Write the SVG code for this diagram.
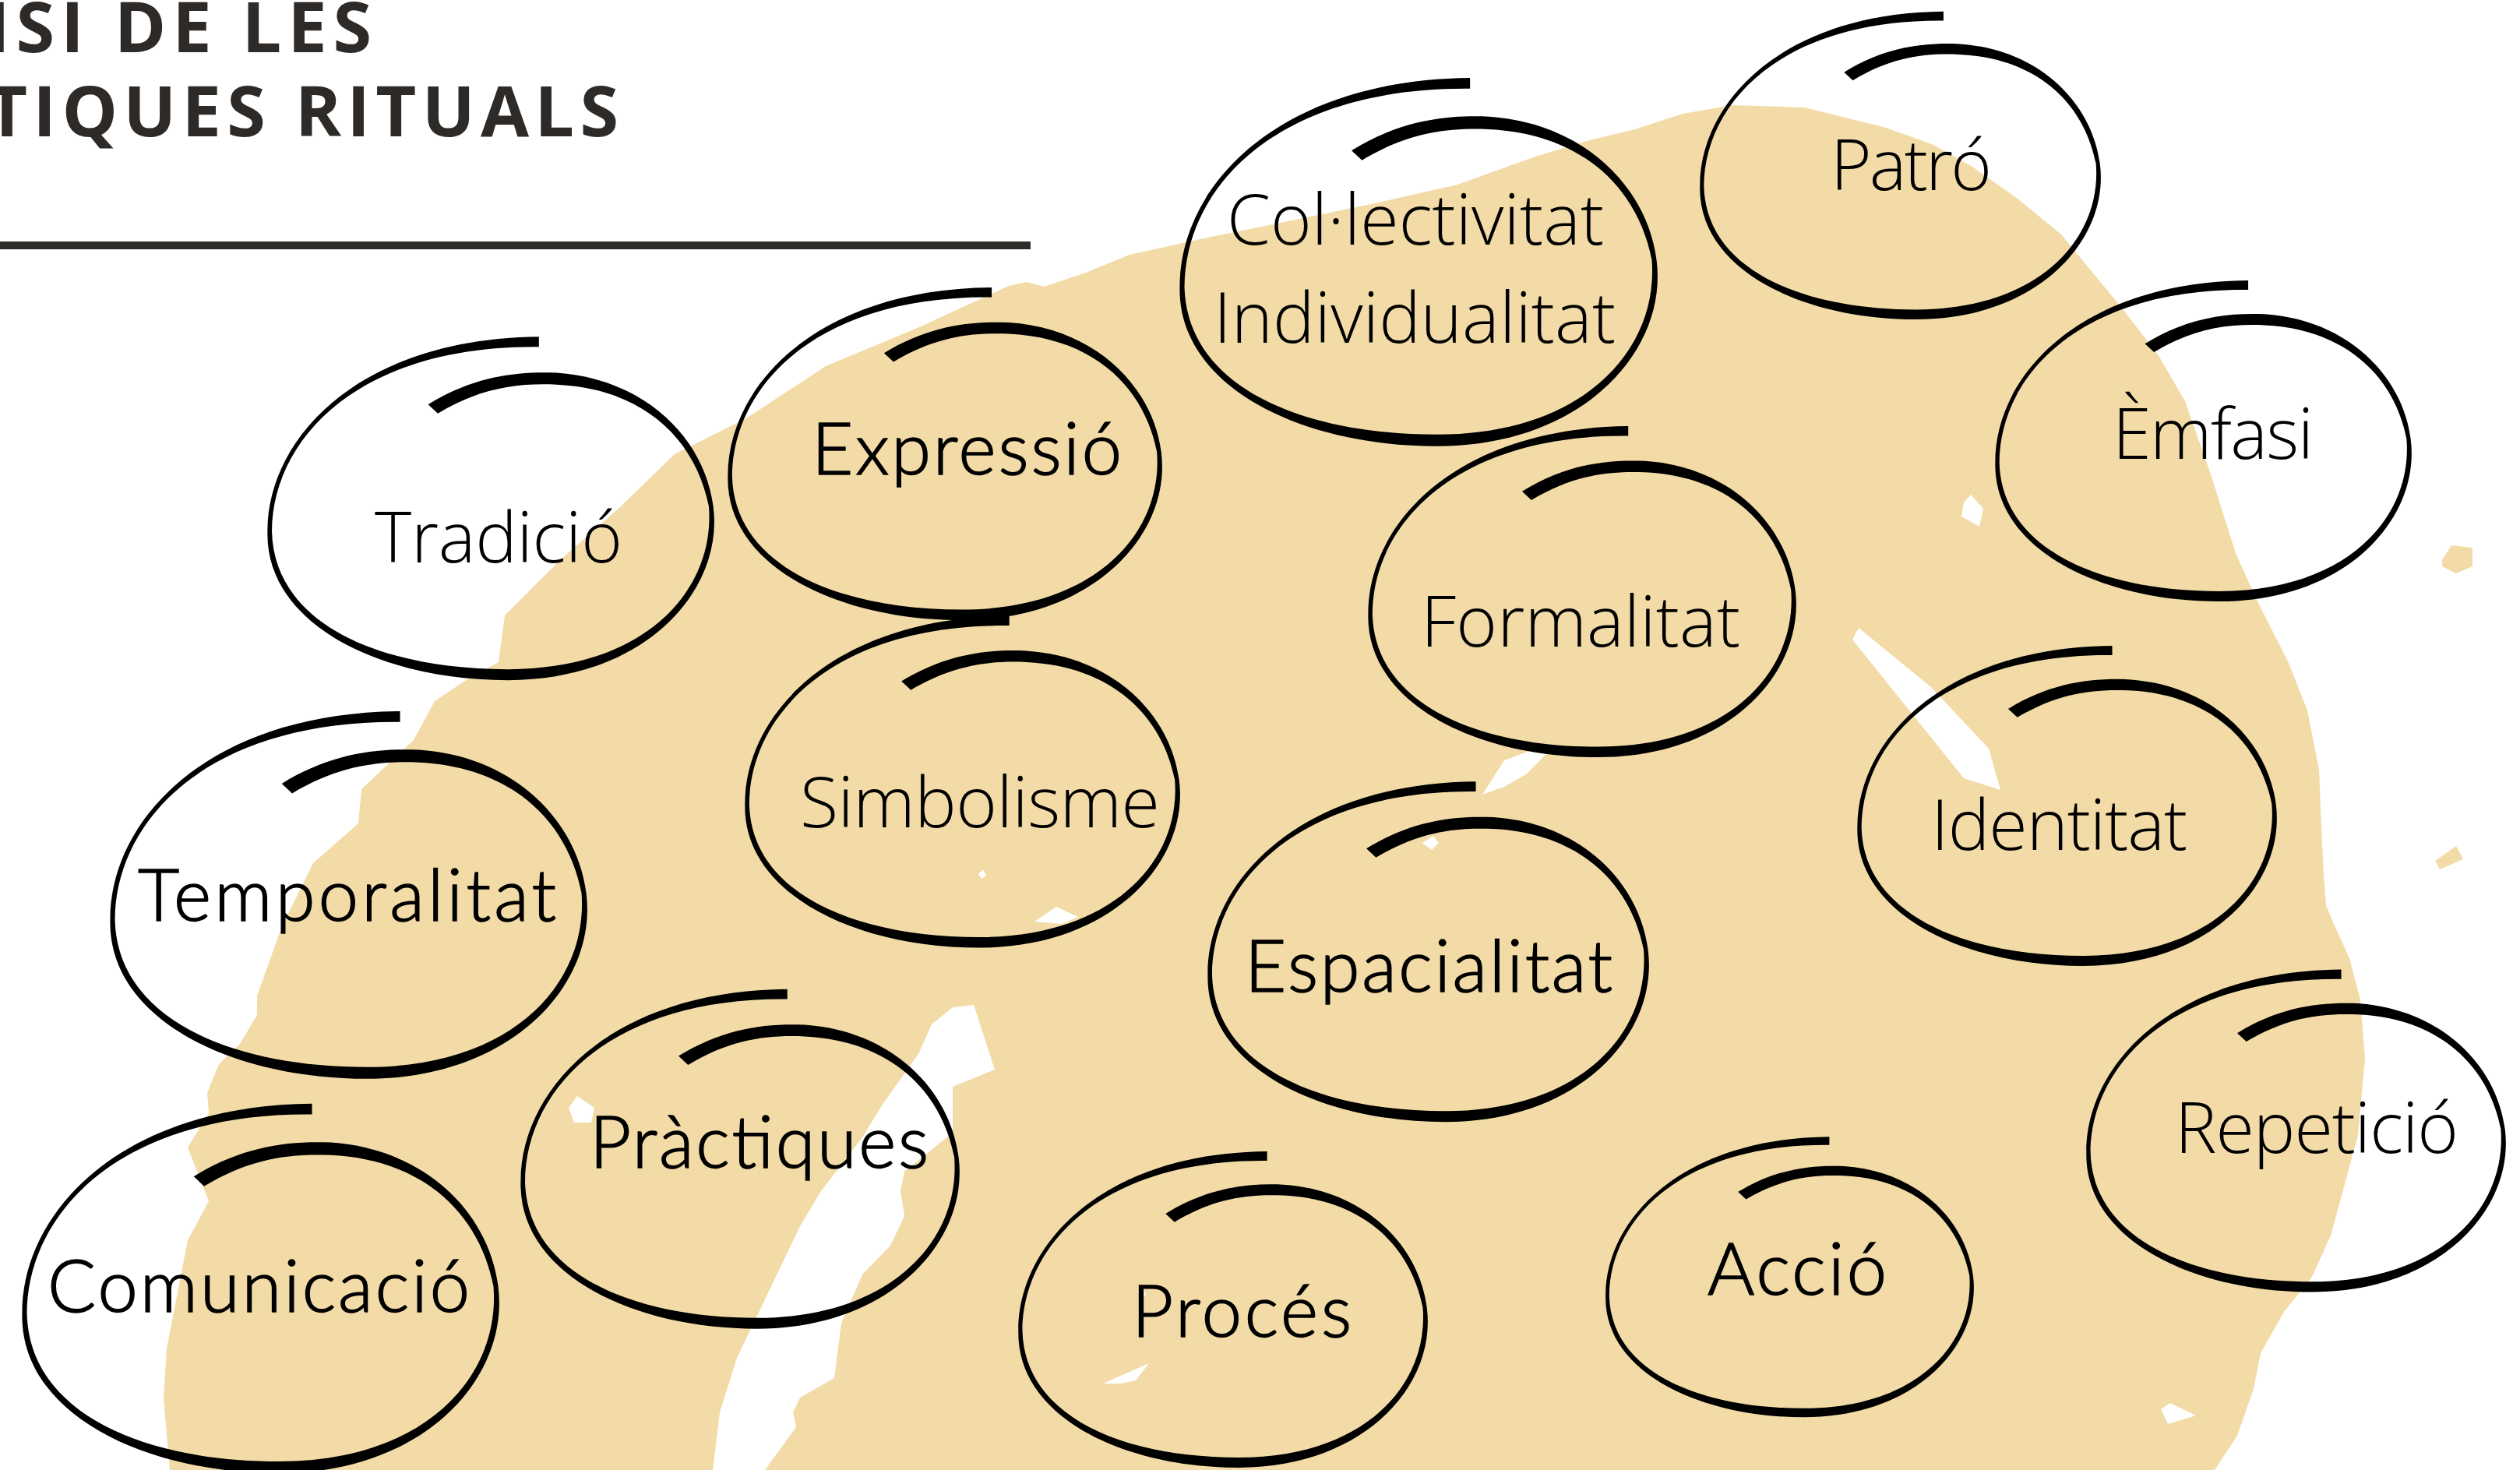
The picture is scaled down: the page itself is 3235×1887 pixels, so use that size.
<svg xmlns="http://www.w3.org/2000/svg" xmlns:xlink="http://www.w3.org/1999/xlink" width="3235" height="1887" viewBox="0 0 3235 1887">
<style>
.title{font-family:"Open Sans","Liberation Sans",sans-serif;font-weight:700;font-size:90px;fill:#2d2a27}
.lt{font-family:"Open Sans","Liberation Sans",sans-serif;font-weight:300;font-size:90px;fill:#000}
.rw{font-family:Lato,"Liberation Sans",sans-serif;font-weight:300;font-size:92px;fill:#000;stroke:#000;stroke-width:1.6px}
.blob{fill:#f2dba6}
.hole{fill:#fff}
.loop{fill:#000}
</style>
<defs>
<path id="loop" class="loop" d="M-28.2,-60.7 C-7.5,-77.5 12,-80.5 30,-79.5 C70.3,-76 97,-40.3 101,0 C106,50 70,103.5 8,103.5 C-50,103.5 -102,70 -101,15 C-101.2,-40 -60,-100 22,-101 L22,-95 C-60,-96 -98.8,-40 -99,15 C-98,70 -50,97 8,97 C70,97 102,50 99,0 C93,-39.7 69.7,-70 30,-72.5 C12,-73.5 -4.5,-70.5 -23.8,-55.3 Z"/>
</defs>
<rect width="3235" height="1887" fill="#fff"/>
<g id="background">
<path class="blob" d="M219,1900 L210,1794 L214,1731 L241,1592 L268,1542 L241,1473 L268,1429 L266,1403 L281,1366 L308,1340 L330,1303 L330,1278 L362,1189 L402,1108 L460,1057 L464,1013 L531,950 L558,900 L600,872 L640,850 L648,790 L720,718 L797,650 L866,583 L958,537 L1060,470 L1180,420 L1295,367 L1318,362 L1340,368 L1394,350 L1450,327 L1550,305 L1644,286 L1760,262 L1871,237 L1968,202 L2040,180 L2099,166 L2160,146 L2224,135 L2316,138 L2418,163 L2480,185 L2532,214 L2590,255 L2646,301 L2726,398 L2770,455 L2805,515 L2839,612 L2870,710 L2896,768 L2938,851 L2962,912 L2977,988 L2980,1060 L2983,1124 L2986,1162 L2995,1184 L3016,1230 L3030,1283 L3036,1359 L3027,1457 L3010,1520 L2992,1586 L2968,1639 L2932,1684 L2902,1737 L2893,1783 L2872,1843 L2843,1887 L2830,1900 Z"/>
<path class="blob" d="M3135,719 L3147,700 L3174,703 L3174,727 L3153,736 L3135,727 Z"/>
<path class="blob" d="M3126,1105 L3153,1086 L3162,1103 L3132,1116 Z"/>
<path class="hole" d="M1250,1290 L1277,1373 L1223,1395 L1223,1454 L1161,1504 L1156,1529 L1161,1561 L1143,1599 L1107,1636 L1080,1699 L1071,1769 L1027,1794 L1018,1813 L1022,1832 L982,1887 L982,1900 L915,1900 L915,1887 L924,1813 L946,1743 L973,1687 L1027,1574 L1054,1529 L1107,1460 L1134,1416 L1179,1353 L1196,1315 L1223,1293 Z"/>
<path class="hole" d="M741,1407 L763,1422 L759,1441 L737,1441 L730,1422 Z"/>
<path class="hole" d="M1256,1122 L1262,1116 L1266,1124 L1260,1128 Z"/>
<path class="hole" d="M1328,1183 L1356,1164 L1384,1177 L1363,1186 Z"/>
<path class="hole" d="M1903,1020 L1931,976 L1966,963 L1987,966 L1959,994 L1931,1010 Z"/>
<path class="hole" d="M1826,1082 L1840,1073 L1847,1082 L1838,1091 Z"/>
<path class="hole" d="M1416,1776 L1475,1750 L1458,1772 L1440,1776 Z"/>
<path class="hole" d="M1461,1658 L1467,1652 L1471,1662 L1465,1666 Z"/>
<path class="hole" d="M2386,806 L2378,821 L2521,999 L2568,1014 L2553,961 L2479,882 Z"/>
<path class="hole" d="M2530,635 L2546,653 L2541,676 L2518,663 L2521,645 Z"/>
<path class="hole" d="M2774,1809 L2786,1801 L2819,1817 L2783,1828 Z"/>
</g>
<g id="title">
<text class="title" x="-17" y="67" textLength="494">ISI DE LES</text>
<text class="title" x="-17" y="175" textLength="811">TIQUES RITUALS</text>
<rect x="0" y="310" width="1323" height="10" fill="#2e2c29"/>
</g>
<g id="connectors"/>
<g id="node-tradicio"><use xlink:href="#loop" transform="translate(629.5,650) scale(2.833,2.156)"/><text class="lt" x="481" y="722" textLength="318">Tradició</text></g>
<g id="node-expressio"><use xlink:href="#loop" transform="translate(1212.5,580) scale(2.754,2.088)"/><text class="rw" x="1042" y="609" textLength="398">Expressió</text></g>
<g id="node-collectivitat"><use xlink:href="#loop" transform="translate(1820.5,333.5) scale(3.03,2.312)"/><text class="lt" x="1575" y="314" textLength="484">Col·lectivitat</text><text class="lt" x="1558" y="440" textLength="516">Individualitat</text></g>
<g id="node-patro"><use xlink:href="#loop" transform="translate(2439,210) scale(2.542,1.932)"/><text class="lt" x="2350" y="244" textLength="207">Patró</text></g>
<g id="node-emfasi"><use xlink:href="#loop" transform="translate(2828,563.5) scale(2.64,2.015)"/><text class="lt" x="2712" y="589" textLength="258">Èmfasi</text></g>
<g id="node-formalitat"><use xlink:href="#loop" transform="translate(2030.5,757) scale(2.714,2.078)"/><text class="lt" x="1824" y="830" textLength="410">Formalitat</text></g>
<g id="node-simbolisme"><use xlink:href="#loop" transform="translate(1235,1001) scale(2.759,2.083)"/><text class="lt" x="1027" y="1062" textLength="462">Simbolisme</text></g>
<g id="node-temporalitat"><use xlink:href="#loop" transform="translate(447,1146) scale(3.025,2.307)"/><text class="rw" x="177" y="1182" textLength="537">Temporalitat</text></g>
<g id="node-identitat"><use xlink:href="#loop" transform="translate(2653,1032) scale(2.66,2.01)"/><text class="lt" x="2479" y="1091" textLength="329">Identitat</text></g>
<g id="node-espacialitat"><use xlink:href="#loop" transform="translate(1833,1219) scale(2.798,2.137)"/><text class="rw" x="1598" y="1273" textLength="472">Espacialitat</text></g>
<g id="node-practiques"><use xlink:href="#loop" transform="translate(949.5,1485) scale(2.783,2.132)"/><text class="rw" x="757" y="1499" textLength="435">Pràctiques</text></g>
<g id="node-comunicacio"><use xlink:href="#loop" transform="translate(334,1651) scale(3.025,2.32)"/><text class="rw" x="61" y="1684" textLength="542">Comunicació</text></g>
<g id="node-proces"><use xlink:href="#loop" transform="translate(1569.5,1678.5) scale(2.596,1.985)"/><text class="rw" x="1453" y="1716" textLength="282">Procés</text></g>
<g id="node-accio"><use xlink:href="#loop" transform="translate(2297,1637) scale(2.335,1.761)"/><text class="rw" x="2192" y="1662" textLength="230">Acció</text></g>
<g id="node-repeticio"><use xlink:href="#loop" transform="translate(2947,1449) scale(2.66,2.024)"/><text class="lt" x="2792" y="1480" textLength="364">Repetició</text></g>
</svg>
